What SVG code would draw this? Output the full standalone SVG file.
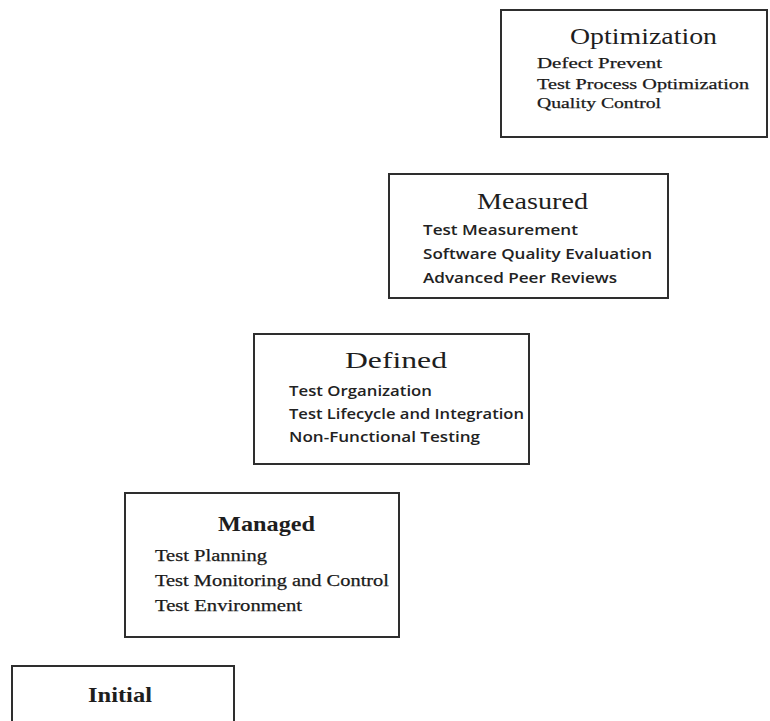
<svg xmlns="http://www.w3.org/2000/svg" width="770" height="721" viewBox="0 0 770 721">
  <style>
    .box { fill: #ffffff; stroke: #2e2e2e; stroke-width: 2; }
    .title { font-family: "Liberation Serif", "DejaVu Serif", serif; font-size: 24px; fill: #1e1e1e; }
    .title-b { font-family: "Liberation Serif", "DejaVu Serif", serif; font-size: 21px; font-weight: bold; fill: #1e1e1e; }
    .serif-s { font-family: "Liberation Serif", "DejaVu Serif", serif; font-size: 15px; fill: #1a1a1a; stroke: #1a1a1a; stroke-width: 0.25; }
    .serif-m { font-family: "Liberation Serif", "DejaVu Serif", serif; font-size: 16.5px; fill: #1a1a1a; stroke: #1a1a1a; stroke-width: 0.25; }
    .sans-item { font-family: "Open Sans", Lato, "Liberation Sans", sans-serif; font-size: 14px; font-weight: 600; fill: #222222; }
  </style>
  <rect width="770" height="721" fill="#ffffff"/>

  <g id="optimization">
    <rect class="box" x="501" y="10" width="266" height="127"/>
    <text class="title" x="570" y="44" textLength="147" lengthAdjust="spacingAndGlyphs">Optimization</text>
    <text class="serif-s" x="537" y="68" textLength="125" lengthAdjust="spacingAndGlyphs">Defect Prevent</text>
    <text class="serif-s" x="537" y="89" textLength="212" lengthAdjust="spacingAndGlyphs">Test Process Optimization</text>
    <text class="serif-s" x="537" y="108" textLength="124" lengthAdjust="spacingAndGlyphs">Quality Control</text>
  </g>

  <g id="measured">
    <rect class="box" x="389" y="174" width="279" height="124"/>
    <text class="title" x="477" y="209" textLength="111" lengthAdjust="spacingAndGlyphs">Measured</text>
    <text class="sans-item" x="423" y="235" textLength="155" lengthAdjust="spacingAndGlyphs">Test Measurement</text>
    <text class="sans-item" x="423" y="259" textLength="229" lengthAdjust="spacingAndGlyphs">Software Quality Evaluation</text>
    <text class="sans-item" x="423" y="283" textLength="194" lengthAdjust="spacingAndGlyphs">Advanced Peer Reviews</text>
  </g>

  <g id="defined">
    <rect class="box" x="254" y="334" width="275" height="130"/>
    <text class="title" x="345" y="368" textLength="102" lengthAdjust="spacingAndGlyphs">Defined</text>
    <text class="sans-item" x="289" y="396" textLength="143" lengthAdjust="spacingAndGlyphs">Test Organization</text>
    <text class="sans-item" x="289" y="419" textLength="235" lengthAdjust="spacingAndGlyphs">Test Lifecycle and Integration</text>
    <text class="sans-item" x="289" y="442" textLength="191" lengthAdjust="spacingAndGlyphs">Non-Functional Testing</text>
  </g>

  <g id="managed">
    <rect class="box" x="125" y="493" width="274" height="144"/>
    <text class="title-b" x="218" y="531" textLength="97" lengthAdjust="spacingAndGlyphs">Managed</text>
    <text class="serif-m" x="155" y="561" textLength="112" lengthAdjust="spacingAndGlyphs">Test Planning</text>
    <text class="serif-m" x="155" y="586" textLength="234" lengthAdjust="spacingAndGlyphs">Test Monitoring and Control</text>
    <text class="serif-m" x="155" y="611" textLength="147" lengthAdjust="spacingAndGlyphs">Test Environment</text>
  </g>

  <g id="initial">
    <rect class="box" x="12" y="666" width="222" height="70"/>
    <text class="title-b" x="88" y="702" textLength="64" lengthAdjust="spacingAndGlyphs">Initial</text>
  </g>

  <g id="connectors"/>
</svg>
